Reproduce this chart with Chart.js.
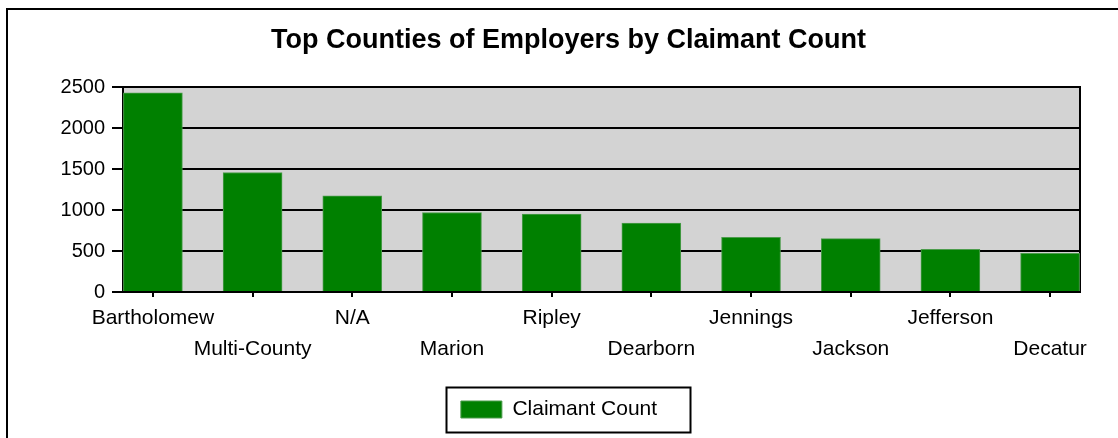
<!DOCTYPE html>
<html>
<head>
<meta charset="utf-8">
<script src="https://cdn.jsdelivr.net/npm/chart.js@4.4.1/dist/chart.umd.min.js"></script>
<style>
  html, body { margin: 0; padding: 0; background: #fff; overflow: hidden; width: 1118px; height: 438px; }
  #frame { position: absolute; left: 6px; top: 8px; width: 1121px; height: 460px; border: 2px solid #000; }
  #frame canvas { display: block; }
</style>
</head>
<body>
<div id="frame"><canvas id="chart" width="1121" height="440"></canvas></div>
<script>
// Chart data
const counties = ['Bartholomew', 'Multi-County', 'N/A', 'Marion', 'Ripley', 'Dearborn', 'Jennings', 'Jackson', 'Jefferson', 'Decatur'];
const claimantCounts = [2435, 1460, 1174, 972, 951, 842, 667, 653, 521, 472];
const yTickValues = [0, 500, 1000, 1500, 2000, 2500];

const barGreen = '#008000';

Chart.defaults.font.family = "'Liberation Sans', Arial, sans-serif";
Chart.defaults.color = '#000';

// grey plot background, legend nudged left, and a box round the legend
const plotExtras = {
    id: 'plotExtras',
    afterLayout(chart) {
        chart.legend.left -= 9.5;
        chart.legend.right -= 9.5;
    },
    beforeDraw(chart) {
        const a = chart.chartArea;
        const ctx = chart.ctx;
        ctx.save();
        ctx.fillStyle = '#d3d3d3';
        ctx.fillRect(a.left, a.top, a.right - a.left, a.bottom - a.top);
        ctx.restore();
    },
    afterDraw(chart) {
        const hb = chart.legend.legendHitBoxes[0];
        if (!hb) return;
        const ctx = chart.ctx;
        const cy = hb.top + hb.height / 2;
        ctx.save();
        ctx.strokeStyle = '#000';
        ctx.lineWidth = 2;
        ctx.strokeRect(chart.width / 2 - 122, cy - 22, 244, 45);
        ctx.restore();
    }
};

new Chart(document.getElementById('chart'), {
    type: 'bar',
    data: {
        datasets: [{
            label: 'Claimant Count',
            data: claimantCounts.map((v, i) => ({ x: i, y: v })),
            backgroundColor: barGreen,
            borderColor: '#4c9c4c',
            borderWidth: 1,
            barThickness: 59
        }]
    },
    plugins: [plotExtras],
    options: {
        responsive: false,
        animation: false,
        layout: { padding: { left: 0, right: 0, top: 0, bottom: 20 } },
        plugins: {
            title: {
                display: true,
                text: 'Top Counties of Employers by Claimant Count',
                font: { size: 27, weight: 'bold' },
                padding: { top: 14, bottom: 31 }
            },
            legend: {
                position: 'bottom',
                labels: {
                    boxWidth: 41,
                    boxHeight: 17,
                    font: { size: 21 },
                    padding: 28
                }
            },
            tooltip: { enabled: false }
        },
        scales: {
            x: {
                type: 'linear',
                min: -0.3,
                max: 9.3,
                offset: false,
                grid: { offset: false, drawOnChartArea: false, color: '#000', lineWidth: 2, tickLength: 5 },
                border: { color: '#000', width: 2 },
                ticks: {
                    stepSize: 1,
                    includeBounds: false,
                    autoSkip: false,
                    maxRotation: 0,
                    minRotation: 0,
                    padding: 6,
                    font: { size: 21, lineHeight: 1.476 },
                    callback: function(value) {
                        const i = Math.round(value);
                        if (i < 0 || i >= counties.length || Math.abs(value - i) > 1e-6) return '';
                        // stagger the labels on two rows like the original
                        return i % 2 ? ['', counties[i]] : counties[i];
                    }
                }
            },
            y: {
                min: 0,
                max: 2500,
                afterBuildTicks: (scale) => { scale.ticks = yTickValues.map(v => ({ value: v })); },
                afterFit: (scale) => { scale.width = 115; },
                grid: { color: '#000', lineWidth: 2, tickLength: 11 },
                border: { color: '#000', width: 2 },
                ticks: { font: { size: 20 }, padding: 7, callback: (v) => String(v) }
            },
            y2: {
                position: 'right',
                min: 0,
                max: 2500,
                afterFit: (scale) => { scale.width = 49; },
                grid: { drawOnChartArea: false, drawTicks: false },
                border: { color: '#000', width: 2 },
                ticks: { display: false }
            }
        }
    }
});
</script>
</body>
</html>
